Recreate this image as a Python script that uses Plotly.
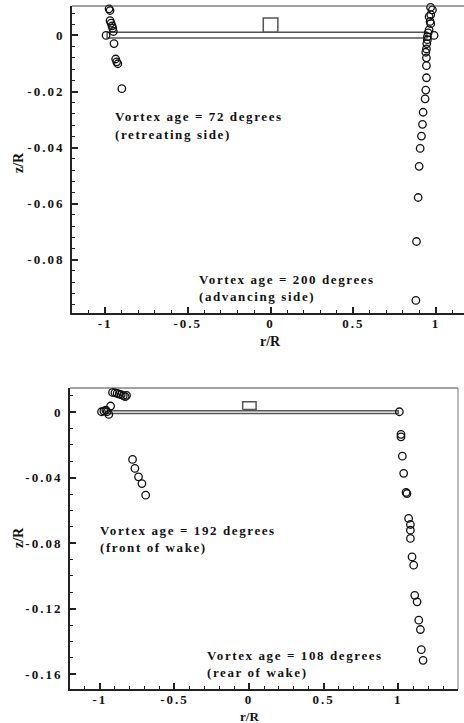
import plotly.graph_objects as go

# ---------------- Top panel data ----------------
ret72_r = [-0.976, -0.970, -0.970, -0.964, -0.958, -0.954, -0.950, -0.994,
           -0.946, -0.936, -0.930, -0.923, -0.899]
ret72_z = [0.0095, 0.0089, 0.0053, 0.0044, 0.0034, 0.0026, 0.0014, 0.0000,
           -0.0029, -0.0084, -0.0094, -0.0101, -0.0190]

adv200_r = [0.967, 0.978, 0.968, 0.958, 0.964, 0.968, 0.958, 0.952, 0.988,
            0.948, 0.948, 0.944, 0.942, 0.938, 0.942, 0.942, 0.942, 0.938,
            0.934, 0.922, 0.918, 0.912, 0.904, 0.898, 0.892, 0.882, 0.878]
adv200_z = [0.0100, 0.0091, 0.0074, 0.0067, 0.0050, 0.0042, 0.0020, 0.0009, 0.0000,
            -0.0004, -0.0015, -0.0029, -0.0048, -0.0060, -0.0080, -0.0108, -0.0151, -0.0195,
            -0.0226, -0.0274, -0.0317, -0.0359, -0.0403, -0.0467, -0.0578, -0.0735, -0.0945]

blade_top_r = [-0.988, 0.945, 0.945, -0.988, -0.988]
blade_top_z = [0.0011, 0.0011, -0.0009, -0.0009, 0.0011]
hub_top_r = [-0.044, 0.044, 0.044, -0.044, -0.044]
hub_top_z = [0.0011, 0.0011, 0.0062, 0.0062, 0.0011]

# ---------------- Bottom panel data ----------------
front192_r = [-0.915, -0.899, -0.884, -0.870, -0.857, -0.843, -0.830, -0.821,
              -0.989, -0.973, -0.960, -0.951, -0.940, -0.928,
              -0.781, -0.765, -0.741, -0.718, -0.693]
front192_z = [0.0120, 0.0118, 0.0114, 0.0110, 0.0106, 0.0100, 0.0094, 0.0102,
              0.0002, 0.0006, 0.0012, 0.0002, -0.0014, 0.0037,
              -0.0289, -0.0344, -0.0395, -0.0436, -0.0507]

rear108_r = [1.007, 1.018, 1.018, 1.027, 1.036, 1.052, 1.058, 1.069, 1.081, 1.081,
             1.081, 1.092, 1.103, 1.110, 1.126, 1.137, 1.148, 1.154, 1.166]
rear108_z = [0.0002, -0.0136, -0.0151, -0.0269, -0.0374, -0.0490, -0.0497, -0.0649,
             -0.0686, -0.0721, -0.0771, -0.0884, -0.0934, -0.1118, -0.1158, -0.1270,
             -0.1327, -0.1450, -0.1515]

blade_bot_r = [-0.95, 1.0, 1.0, -0.95, -0.95]
blade_bot_z = [0.0008, 0.0008, -0.0008, -0.0008, 0.0008]
hub_bot_r = [-0.043, 0.047, 0.047, -0.043, -0.043]
hub_bot_z = [0.0016, 0.0016, 0.0063, 0.0063, 0.0016]

# ---------------- Tick labels ----------------
x_tickvals = [-1, -0.5, 0, 0.5, 1]
x_ticktext = ["-1", "-0.5", "0", "0.5", "1"]
top_y_tickvals = [0, -0.02, -0.04, -0.06, -0.08]
top_y_ticktext = ["0", "-0.02", "-0.04", "-0.06", "-0.08"]
bot_y_tickvals = [0, -0.04, -0.08, -0.12, -0.16]
bot_y_ticktext = ["0", "-0.04", "-0.08", "-0.12", "-0.16"]

W, H = 464, 723
FONT = "Liberation Serif"
INK = "#111111"

fig = go.Figure()

mk = dict(symbol="circle-open", size=7.5, color=INK, line=dict(width=1.3, color=INK))

# top panel
fig.add_trace(go.Scatter(x=blade_top_r, y=blade_top_z, mode="lines",
                         line=dict(color="#555555", width=1.5), xaxis="x", yaxis="y",
                         showlegend=False, hoverinfo="skip"))
fig.add_trace(go.Scatter(x=hub_top_r, y=hub_top_z, mode="lines",
                         line=dict(color="#555555", width=1.5), xaxis="x", yaxis="y",
                         showlegend=False, hoverinfo="skip"))
fig.add_trace(go.Scatter(x=ret72_r, y=ret72_z, mode="markers", marker=mk,
                         xaxis="x", yaxis="y", showlegend=False, cliponaxis=False))
fig.add_trace(go.Scatter(x=adv200_r, y=adv200_z, mode="markers", marker=mk,
                         xaxis="x", yaxis="y", showlegend=False, cliponaxis=False))

# bottom panel
fig.add_trace(go.Scatter(x=blade_bot_r, y=blade_bot_z, mode="lines",
                         line=dict(color="#555555", width=1.5), xaxis="x2", yaxis="y2",
                         showlegend=False, hoverinfo="skip"))
fig.add_trace(go.Scatter(x=hub_bot_r, y=hub_bot_z, mode="lines",
                         line=dict(color="#555555", width=1.5), xaxis="x2", yaxis="y2",
                         showlegend=False, hoverinfo="skip"))
fig.add_trace(go.Scatter(x=front192_r, y=front192_z, mode="markers", marker=mk,
                         xaxis="x2", yaxis="y2", showlegend=False, cliponaxis=False))
fig.add_trace(go.Scatter(x=rear108_r, y=rear108_z, mode="markers", marker=mk,
                         xaxis="x2", yaxis="y2", showlegend=False, cliponaxis=False))

tickfont = dict(family=FONT, size=13, color=INK, weight="bold")


def xax(domain, rng, anchor, minor_dtick):
    return dict(domain=domain, range=rng, anchor=anchor, showgrid=False, zeroline=False,
                showline=True, linewidth=2, linecolor="#222222", mirror=False,
                ticks="inside", ticklen=6, tickwidth=1.6, tickcolor="#222222",
                tickvals=x_tickvals, ticktext=x_ticktext, tickfont=tickfont,
                ticklabelstandoff=-3,
                minor=dict(ticks="inside", dtick=minor_dtick, tick0=0, ticklen=3,
                           tickwidth=1, tickcolor="#222222"))


def yax(domain, rng, anchor, tv, tt, minor_dtick):
    return dict(domain=domain, range=rng, anchor=anchor, showgrid=False, zeroline=False,
                showline=True, linewidth=2, linecolor="#222222", mirror=False,
                ticks="inside", ticklen=6, tickwidth=1.6, tickcolor="#222222",
                tickvals=tv, ticktext=tt, tickfont=tickfont, ticklabelstandoff=3,
                minor=dict(ticks="inside", dtick=minor_dtick, tick0=0, ticklen=3,
                           tickwidth=1, tickcolor="#222222"))


top_dom_y = [1 - 313 / H, 1 - 6 / H]
bot_dom_y = [1 - 689 / H, 1 - 388 / H]

fig.update_layout(
    width=W, height=H, autosize=False,
    margin=dict(l=0, r=0, t=0, b=0),
    paper_bgcolor="white", plot_bgcolor="white",
    xaxis=xax([72 / W, 1.0], [-1.2, 1.169], "y", 0.1),
    yaxis=yax(top_dom_y, [-0.099, 0.0105], "x", top_y_tickvals, top_y_ticktext, 0.004),
    xaxis2=xax([70 / W, 458 / W], [-1.2, 1.4], "y2", 0.1),
    yaxis2=yax(bot_dom_y, [-0.169, 0.0147], "x2", bot_y_tickvals, bot_y_ticktext, 0.01),
)

# thin top/right frame lines
fig.add_shape(type="line", xref="x domain", yref="y domain", x0=0, x1=1, y0=1, y1=1,
              line=dict(color="#444444", width=1))
fig.add_shape(type="line", xref="x2 domain", yref="y2 domain", x0=0, x1=1, y0=1, y1=1,
              line=dict(color="#444444", width=1))
fig.add_shape(type="line", xref="x2 domain", yref="y2 domain", x0=1, x1=1, y0=0, y1=1,
              line=dict(color="#777777", width=1))

afont = dict(family=FONT, size=13, color=INK)
labels = [
    ("x", "y", -0.952, -0.0290, "Vortex age = 72 degrees"),
    ("x", "y", -0.952, -0.0354, "(retreating side)"),
    ("x", "y", -0.444, -0.0871, "Vortex age = 200 degrees"),
    ("x", "y", -0.444, -0.0932, "(advancing side)"),
    ("x2", "y2", -1.013, -0.0721, "Vortex age = 192 degrees"),
    ("x2", "y2", -1.013, -0.0824, "(front of wake)"),
    ("x2", "y2", -0.295, -0.1484, "Vortex age = 108 degrees"),
    ("x2", "y2", -0.295, -0.1588, "(rear of wake)"),
]
for xr, yr, x, y, t in labels:
    fig.add_annotation(xref=xr, yref=yr, x=x, y=y, text="<b>" + t + "</b>",
                       showarrow=False, xanchor="left", yanchor="middle", font=afont)

tfont = dict(family=FONT, size=14, color=INK)
fig.add_annotation(xref="paper", yref="paper", x=270 / W, y=1 - 341 / H, text="<b>r/R</b>",
                   showarrow=False, xanchor="center", yanchor="middle", font=tfont)
fig.add_annotation(xref="paper", yref="paper", x=249 / W, y=1 - 716 / H, text="<b>r/R</b>",
                   showarrow=False, xanchor="center", yanchor="middle",
                   font=dict(family=FONT, size=13, color=INK))
fig.add_annotation(xref="paper", yref="paper", x=19 / W, y=1 - 163 / H, text="<b>z/R</b>",
                   showarrow=False, xanchor="center", yanchor="middle", textangle=-90, font=tfont)
fig.add_annotation(xref="paper", yref="paper", x=18 / W, y=1 - 538 / H, text="<b>z/R</b>",
                   showarrow=False, xanchor="center", yanchor="middle", textangle=-90, font=tfont)

post = """
document.body.style.margin = '0';
document.body.style.padding = '0';
var gd = document.getElementById('{plot_id}');
function spacing(){
  gd.querySelectorAll('.xaxislayer-above text, .yaxislayer-above text').forEach(function(t){
    t.style.letterSpacing = '2px';
  });
  gd.querySelectorAll('.annotation-text').forEach(function(t){
    if (t.getAttribute('data-ls')) return;
    var txt = t.textContent || '';
    if (txt.length < 6) return;
    var bb = t.getBBox();
    t.setAttribute('text-anchor', 'start');
    t.style.textAnchor = 'start';
    t.setAttribute('x', bb.x);
    t.style.letterSpacing = '1.6px';
    t.setAttribute('data-ls', '1');
  });
}
spacing();
gd.on('plotly_afterplot', spacing);
"""

fig.write_html("out.html", post_script=post, config={"displayModeBar": False})
